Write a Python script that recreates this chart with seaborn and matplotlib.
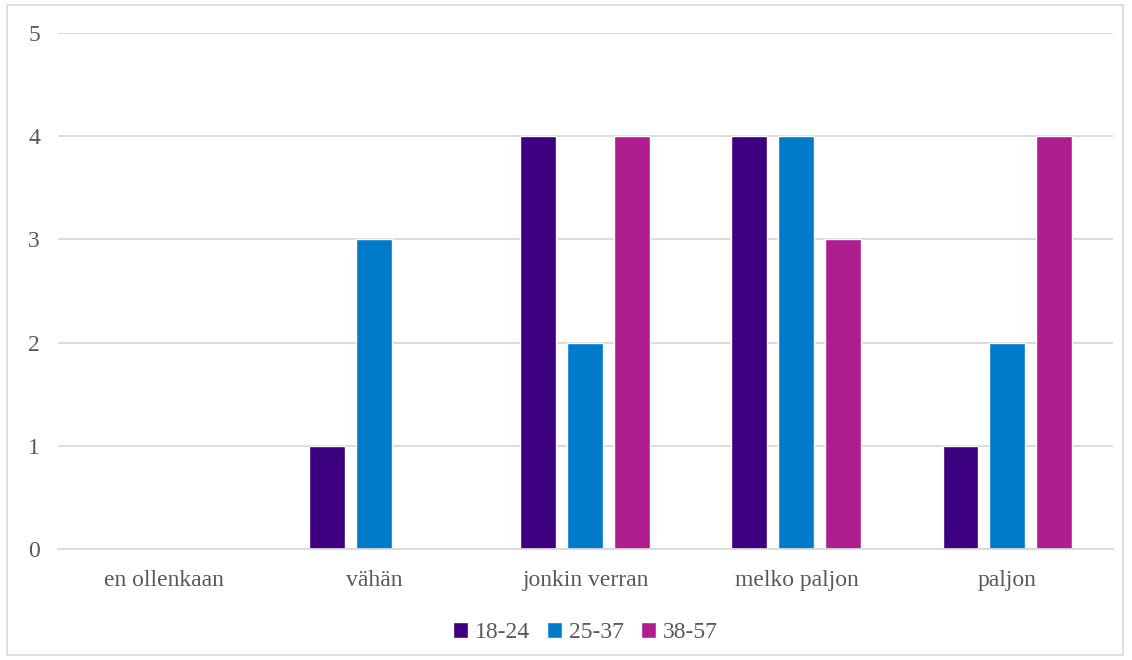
import pandas as pd
import seaborn as sns
import matplotlib.pyplot as plt
from matplotlib.patches import Rectangle

# Данные
categories = ['en ollenkaan', 'vähän', 'jonkin verran', 'melko paljon', 'paljon']
groups = ['18-24', '25-37', '38-57']
v_18_24 = [0, 1, 4, 4, 1]
v_25_37 = [0, 3, 2, 4, 2]
v_38_57 = [0, 0, 4, 3, 4]
colors = ['#3C0080', '#007BC9', '#AE1E8E']

df = pd.DataFrame({
    'kategoria': categories * 3,
    'ryhmä': [g for g in groups for _ in categories],
    'arvo': v_18_24 + v_25_37 + v_38_57,
})

sns.set_style('white')
plt.rcParams['font.family'] = ['Liberation Serif', 'DejaVu Serif']

fig = plt.figure(figsize=(11.32, 6.6), dpi=100)
ax = fig.add_axes([0.0512, 0.1682, 0.932, 0.7818])

sns.barplot(data=df, x='kategoria', y='arvo', hue='ryhmä', order=categories,
            hue_order=groups, palette=colors, width=0.668, gap=0.234,
            saturation=1, ax=ax, legend=True)

ax.set_ylim(0, 5)
ax.set_xlim(-0.5, 4.5)
ax.set_yticks(range(6))
ax.grid(axis='y', color='#d9d9d9', linewidth=1.3)
ax.set_axisbelow(True)
for s in ['top', 'right', 'left']:
    ax.spines[s].set_visible(False)
ax.spines['bottom'].set_color('#d9d9d9')
ax.spines['bottom'].set_linewidth(1.3)
ax.tick_params(axis='both', length=0, labelsize=17, labelcolor='#595959')
ax.tick_params(axis='y', pad=13)
ax.tick_params(axis='x', pad=15)
ax.set_xlabel('')
ax.set_ylabel('')

leg = ax.legend(loc='center', bbox_to_anchor=(0.5, -0.162), ncol=3, frameon=False,
                fontsize=17, handlelength=0.65, handleheight=0.65, handletextpad=0.3,
                columnspacing=0.7, labelcolor='#595959')

# рамка вокруг рисунка
fig.patches.append(Rectangle((7 / 1132, 1 - 655 / 660), 1116 / 1132, 650 / 660,
                             transform=fig.transFigure, fill=False,
                             edgecolor='#d9d9d9', linewidth=1.2))

plt.savefig('out.png', dpi=100)
